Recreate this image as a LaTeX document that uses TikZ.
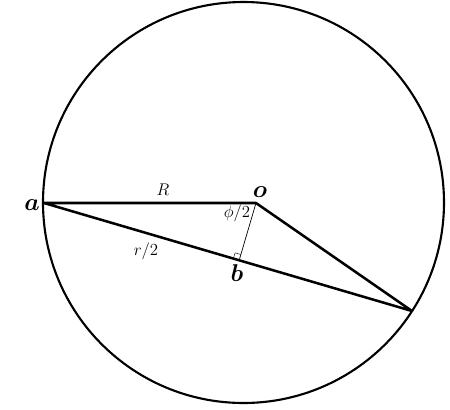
\documentclass[tikz,border=0pt]{standalone}
\usepackage{amsmath, amssymb}
\usetikzlibrary{calc}

\tikzset{
  thickline/.style={line width=1.8pt, line cap=round, line join=round},
  thinline/.style={line width=0.5pt},
  ptlabel/.style={font=\LARGE\boldmath, inner sep=1pt},
  seglabel/.style={font=\large, inner sep=1pt}
}

\begin{document}
\begin{tikzpicture}[x=0.025cm, y=-0.025cm]
  \useasboundingbox (0,0) rectangle (450,410);

  % Circle
  \draw[line width=1.5pt] (243.5,202.5) circle[radius=200.5];

  % Points
  \coordinate (a) at (44,203);
  \coordinate (o) at (256,203);
  \coordinate (c) at (412,311);
  \coordinate (b) at ($(a)!(o)!(c)$);

  % Triangle
  \draw[thickline] (a) -- (o) -- (c) -- cycle;
  \draw[thinline] (o) -- (b);

  % Right angle mark
  \coordinate (p) at ($(b)!0.15cm!(a)$);
  \coordinate (q) at ($(b)!0.15cm!(o)$);
  \draw[line width=0.3pt] (p) -- ($(p)+(q)-(b)$) -- (q);

  % Labels
  \node[ptlabel] (la) at (32,205) {$a$};
  \node[ptlabel] (lo) at (260,192) {$o$};
  \node[ptlabel] (lb) at (237,273) {$b$};
  \node[seglabel] (lR) at (163,190) {$R$};
  \node[seglabel] (lphi) at (237,213) {$\phi/2$};
  \node[seglabel] (lr) at (146,251) {$r/2$};
\end{tikzpicture}
\end{document}
